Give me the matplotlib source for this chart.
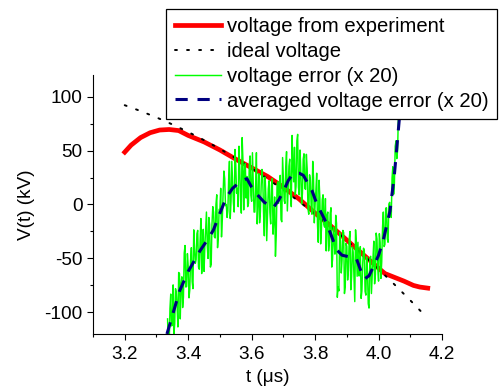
import numpy as np
import matplotlib.pyplot as plt
from matplotlib.ticker import MultipleLocator

plt.rcParams['font.family'] = ['Liberation Sans', 'DejaVu Sans']
plt.rcParams['axes.unicode_minus'] = False

# voltage from experiment (red)
t_exp = [3.20, 3.22, 3.25, 3.28, 3.31, 3.34, 3.37, 3.40, 3.45, 3.50, 3.55, 3.60,
         3.65, 3.70, 3.75, 3.80, 3.85, 3.90, 3.95, 4.00, 4.02, 4.05, 4.08, 4.11,
         4.13, 4.155]
v_exp = [48.5, 55, 62, 66.5, 69, 69.5, 68.5, 64, 58, 50.5, 42, 34,
         26, 16, 5, -8, -20, -33, -46, -59, -64, -67.5, -71, -75,
         -76.5, -77.5]

# ideal voltage (black dots)
t_ideal = [3.20, 3.25, 3.30, 3.35, 3.40, 3.45, 3.50, 3.55, 3.60, 3.65, 3.70,
           3.75, 3.80, 3.85, 3.90, 3.95, 4.00, 4.05, 4.10, 4.14]
v_ideal = [92, 86.6, 80.7, 74.2, 67.2, 59.6, 51.5, 42.8, 33.6, 23.8, 13.5,
           2.7, -8.8, -20.7, -33.3, -46.3, -59.9, -74.1, -88.8, -101]

# voltage error x 20 (green), sampled every 5 ns from 3.335 us
t_err_a = np.linspace(3.335, 4.080, 150)
v_err_a = [-106, -131, -83, -112, -120, -78, -94, -63, -106, -67,
           -86, -38, -76, -57, -79, -40, -78, -41, -51, -24,
           -60, -13, -47, -62, -22, -38, -12, -58, -18, -7,
           -31, 9, -30, -4, -30, 10, 24, 0, -6, 40,
           3, 21, -7, 36, 15, 54, 5, 62, -5, 38,
           26, 1, 45, 3, 22, -7, 48, 2, -17, 17,
           23, -29, 6, -9, 22, -18, 24, -13, -48, 17,
           1, 27, -16, 22, 1, 49, 14, 42, -2, 35,
           53, 17, 65, 9, 31, 10, 47, 14, 33, -9,
           23, -9, 25, 0, 29, -35, 6, -23, 9, -21,
           -43, -7, -35, -3, -51, -32, -10, -86, -80, -34,
           -51, -26, -76, -39, -61, -25, -67, -44, -90, -36,
           -35, -66, -87, -55, -42, -84, -62, -96, -48, -65,
           -34, -65, -32, -71, -35, -53, -7, -37, -3, -35,
           2, -12, 35, 20, 59, 50, 90, 85, 116, 121]
# samples in between (offset 2.5 ns)
t_err_b = np.linspace(3.3375, 4.0775, 149)
v_err_b = [-135.5, -96.5, -112.5, -74.5, -110.5, -81.5, -113.5, -64, -73, -95.5,
           -45, -76.5, -45.5, -86.5, -52, -71.5, -23.5, -54.5, -27, -58,
           -34.5, -64, -23, -39, -7, -50, -18.5, -55.5, -2, -30,
           0, -40, -4.5, 15, -14.5, 31, -1, -12, 23, -13,
           40, 1.5, 51, 10.5, -2, 33.5, -8, 41.5, 30.5, 6,
           -2, 36.5, 8.5, 48, -7, 17, -18, 28.5, -7, 32.5,
           -8, 25.5, -33.5, 14.5, -7.5, 17.5, -27.5, 7, -29, 21,
           19.5, -14, 43.5, 3.5, 35.5, -6, 35.5, 9, 64, 21,
           9, 59, 16, 50.5, 0.5, 42, 15, 46.5, -4, 27.5,
           -1, 40, -17, 13, -18.5, 22.5, -36.5, 4.5, -18.5, 5.5,
           -10, -43, -8.5, -58, -21, -46, -17.5, -76.5, -26, -63.5,
           -24, -82.5, -36, -70, -31.5, -79, -39.5, -68, -23.5, -66.5,
           -66, -39, -80, -40.5, -80.5, -48.5, -92, -50.5, -82.5, -49.5,
           -73.5, -26.5, -59.5, -27, -68.5, -21.5, -39, -3.5, -32, 0.5,
           -10.5, 24.5, 9.5, 54, 42.5, 83.5, 79, 112, 113]

t_err = np.empty(len(t_err_a) + len(t_err_b))
v_err = np.empty_like(t_err)
t_err[0::2], t_err[1::2] = t_err_a, t_err_b
v_err[0::2], v_err[1::2] = v_err_a, v_err_b

# averaged voltage error x 20 (navy dashed)
t_avg = [3.333, 3.35, 3.373, 3.40, 3.437, 3.46, 3.479, 3.50, 3.521, 3.54,
         3.563, 3.585, 3.60, 3.615, 3.64, 3.668, 3.685, 3.70, 3.715, 3.731,
         3.75, 3.763, 3.79, 3.805, 3.82, 3.837, 3.85, 3.868, 3.885, 3.90,
         3.93, 3.945, 3.956, 3.97, 3.983, 4.00, 4.015, 4.036, 4.05, 4.066, 4.08]
v_avg = [-120, -103, -80, -62, -43, -33, -24, -8, 7, 15,
         21, 24, 16, 10, 2, -3, 4, 12, 22, 29,
         29, 27, 13, 1, -8, -18, -28, -42, -47, -48,
         -50, -62, -69, -66, -58, -47, -33, -6, 28, 81, 125]

fig = plt.figure(figsize=(4.99, 3.9), dpi=100)
ax = fig.add_axes([0.1864, 0.1436, 0.6994, 0.6641])

ax.plot(t_exp, v_exp, color='#ff0000', lw=3.4, label='voltage from experiment')
ax.plot(t_ideal, v_ideal, color='black', lw=1.4, linestyle=(0, (1, 5.2)),
        dash_capstyle='round', label='ideal voltage')
ax.plot(t_err, v_err, color='#00ff00', lw=1.05, label='voltage error (x 20)')
ax.plot(t_avg, v_avg, color='#000080', lw=2.2, linestyle=(0, (4, 3.2)),
        label='averaged voltage error (x 20)')

ax.set_xlim(3.1, 4.2)
ax.set_ylim(-120, 120)
ax.xaxis.set_minor_locator(MultipleLocator(0.1))
ax.yaxis.set_minor_locator(MultipleLocator(25))
ax.set_xticks([3.2, 3.4, 3.6, 3.8, 4.0, 4.2])
ax.set_xticklabels(['3.2', '3.4', '3.6', '3.8', '4.0', '4.2'])
ax.set_yticks([-100, -50, 0, 50, 100])

for s in ['top', 'right']:
    ax.spines[s].set_visible(False)
for s in ['left', 'bottom']:
    ax.spines[s].set_linewidth(0.8)
ax.tick_params(which='major', length=4, width=0.8, labelsize=13.7)
ax.tick_params(axis='x', which='major', pad=5)
ax.tick_params(which='minor', length=2.5, width=0.8)

ax.set_xlabel('t (μs)', fontsize=13.7, labelpad=4)
ax.set_ylabel('V(t) (kV)', fontsize=13.7, labelpad=7)

leg = fig.legend(loc='upper left', bbox_to_anchor=(0.3327, 0.977),
                 fontsize=14.6, frameon=True, fancybox=False, framealpha=1,
                 edgecolor='black', handlelength=2.3, handletextpad=0.3,
                 labelspacing=0.28, borderpad=0.42, borderaxespad=0)
leg.get_frame().set_linewidth(0.9)

fig.savefig('out.png', dpi=100)
